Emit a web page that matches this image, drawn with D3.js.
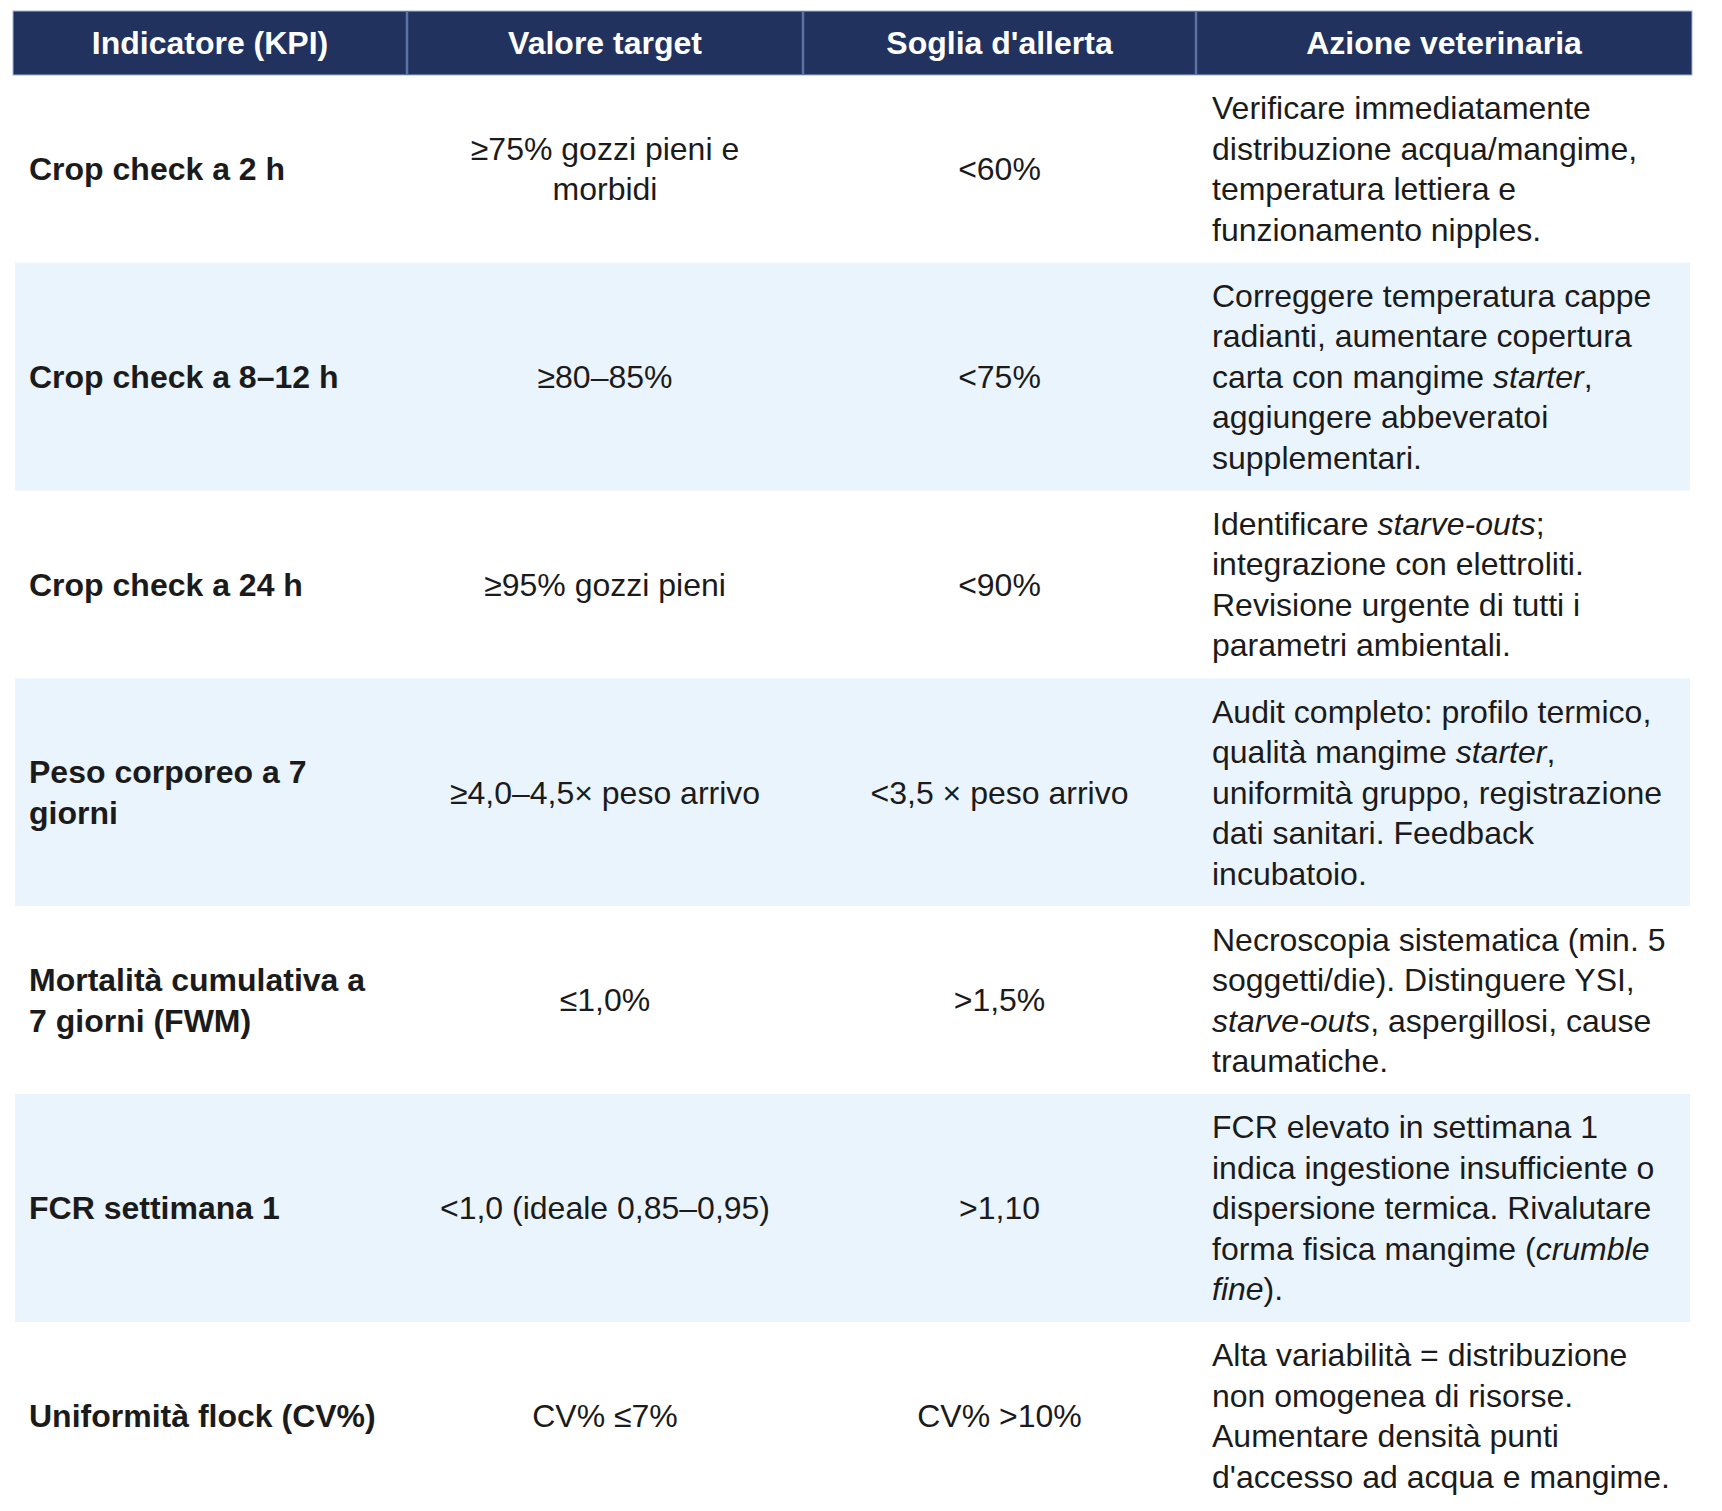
<!DOCTYPE html>
<html>
<head>
<meta charset="utf-8">
<script src="https://cdn.jsdelivr.net/npm/d3@7"></script>
<style>
  body { margin: 0; background: #fff; }
  svg { display: block; font-family: "Liberation Sans", Arial, Helvetica, sans-serif; }
</style>
</head>
<body>
<div id="table"></div>
<script>
// Column headers
const headers = ["Indicatore (KPI)", "Valore target", "Soglia d'allerta", "Azione veterinaria"];

// Cell texts ("\n" = line break as in the picture, *...* = italic)
const indicators = [
  "Crop check a 2 h",
  "Crop check a 8–12 h",
  "Crop check a 24 h",
  "Peso corporeo a 7\ngiorni",
  "Mortalità cumulativa a\n7 giorni (FWM)",
  "FCR settimana 1",
  "Uniformità flock (CV%)"
];
const targets = [
  "≥75% gozzi pieni e\nmorbidi",
  "≥80–85%",
  "≥95% gozzi pieni",
  "≥4,0–4,5× peso arrivo",
  "≤1,0%",
  "<1,0 (ideale 0,85–0,95)",
  "CV% ≤7%"
];
const thresholds = [
  "<60%",
  "<75%",
  "<90%",
  "<3,5 × peso arrivo",
  ">1,5%",
  ">1,10",
  "CV% >10%"
];
const actions = [
  "Verificare immediatamente\ndistribuzione acqua/mangime,\ntemperatura lettiera e\nfunzionamento nipples.",
  "Correggere temperatura cappe\nradianti, aumentare copertura\ncarta con mangime *starter*,\naggiungere abbeveratoi\nsupplementari.",
  "Identificare *starve-outs*;\nintegrazione con elettroliti.\nRevisione urgente di tutti i\nparametri ambientali.",
  "Audit completo: profilo termico,\nqualità mangime *starter*,\nuniformità gruppo, registrazione\ndati sanitari. Feedback\nincubatoio.",
  "Necroscopia sistematica (min. 5\nsoggetti/die). Distinguere YSI,\n*starve-outs*, aspergillosi, cause\ntraumatiche.",
  "FCR elevato in settimana 1\nindica ingestione insufficiente o\ndispersione termica. Rivalutare\nforma fisica mangime (*crumble*\n*fine*).",
  "Alta variabilità = distribuzione\nnon omogenea di risorse.\nAumentare densità punti\nd'accesso ad acqua e mangime."
];

// Layout
const W = 1722, H = 1511;
const left = 13, right = 1692;
const headerTop = 11, headerH = 64;
const fontSize = 32, lineH = 40.5, padY = 12.8, padX = 16;
const colWeights = [394, 396, 393, 496];

const columns = [
  { key: "kpi", data: indicators, align: "start", weight: "bold" },
  { key: "target", data: targets, align: "middle", weight: "normal" },
  { key: "soglia", data: thresholds, align: "middle", weight: "normal" },
  { key: "azione", data: actions, align: "start", weight: "normal" }
];

// x scale: cumulative column edges
const edges = [0];
colWeights.forEach((w, i) => edges.push(edges[i] + w));
const x = d3.scaleLinear().domain([0, edges[edges.length - 1]]).range([left, right]);
const colX0 = i => x(edges[i]);
const colX1 = i => x(edges[i + 1]);

// rows: height from the tallest cell of each row
const rows = indicators.map((d, i) => {
  const n = d3.max(columns, c => c.data[i].split("\n").length);
  return { i, lines: n, h: n * lineH + 2 * padY };
});
let acc = headerTop + headerH;
rows.forEach(r => { r.y = acc; acc += r.h; });

const svg = d3.select("#table")
  .append("svg")
  .attr("width", W)
  .attr("height", H);

// Row bands (alternate light blue)
svg.append("g")
  .selectAll("rect")
  .data(rows)
  .enter()
  .append("rect")
  .attr("x", left + 2)
  .attr("y", d => d.y)
  .attr("width", right - left - 4)
  .attr("height", d => d.h)
  .attr("fill", d => d.i % 2 === 1 ? "#eaf4fd" : "#ffffff");

// Header
const head = svg.append("g");
head.append("rect")
  .attr("x", left)
  .attr("y", headerTop)
  .attr("width", right - left)
  .attr("height", headerH)
  .attr("fill", "#21325e")
  .attr("stroke", "#9fb3d6")
  .attr("stroke-width", 1);

head.selectAll("line")
  .data(d3.range(1, headers.length))
  .enter()
  .append("line")
  .attr("x1", d => colX0(d))
  .attr("x2", d => colX0(d))
  .attr("y1", headerTop)
  .attr("y2", headerTop + headerH)
  .attr("stroke", "#5a72a6")
  .attr("stroke-width", 2.5);

head.selectAll("text")
  .data(headers)
  .enter()
  .append("text")
  .attr("x", (d, i) => (colX0(i) + colX1(i)) / 2)
  .attr("y", headerTop + headerH / 2 + fontSize * 0.35)
  .attr("text-anchor", "middle")
  .attr("fill", "#ffffff")
  .attr("font-weight", "bold")
  .attr("font-size", fontSize)
  .text(d => d);

// Write one line with *italic* segments as tspans
function writeLine(sel, str) {
  str.split(/(\*[^*]+\*)/).filter(s => s.length).forEach(part => {
    const it = part.startsWith("*") && part.endsWith("*");
    sel.append("tspan")
      .attr("font-style", it ? "italic" : "normal")
      .text(it ? part.slice(1, -1) : part);
  });
}

// Body cells
const body = svg.append("g").attr("font-size", fontSize).attr("fill", "#1b1b1b");
rows.forEach(r => {
  columns.forEach((c, ci) => {
    const lines = c.data[r.i].split("\n");
    const blockH = lines.length * lineH;
    const top = r.y + (r.h - blockH) / 2;
    const tx = c.align === "middle" ? (colX0(ci) + colX1(ci)) / 2 : colX0(ci) + padX;
    lines.forEach((ln, li) => {
      const t = body.append("text")
        .attr("x", tx)
        .attr("y", top + li * lineH + lineH / 2 + fontSize * 0.35)
        .attr("text-anchor", c.align)
        .attr("font-weight", c.weight);
      writeLine(t, ln);
    });
  });
});
</script>
</body>
</html>
